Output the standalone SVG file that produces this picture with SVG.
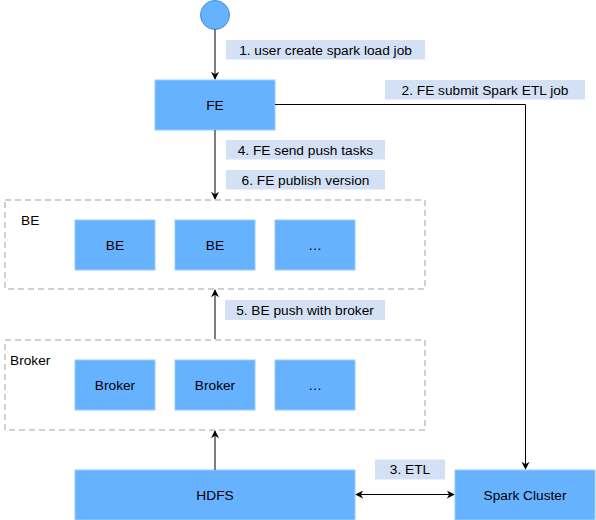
<svg xmlns="http://www.w3.org/2000/svg" width="596" height="520" viewBox="0 0 596 520">
<style>
text{font-family:"Liberation Sans",Arial,sans-serif;font-size:13.7px;fill:#000;}
.n{fill:#66b2ff;stroke:#99ccff;stroke-width:1;}
.lb{fill:#d4e1f5;stroke:none;}
.grp{fill:none;stroke:#d0d0d0;stroke-width:2;stroke-dasharray:6 4;}
.c{fill:none;stroke:#000;stroke-width:1;}
.m{text-anchor:middle;dominant-baseline:central;}
</style>
<defs>
<marker id="ah" viewBox="0 0 10 10" refX="9" refY="5" markerWidth="8" markerHeight="8" markerUnits="userSpaceOnUse" orient="auto-start-reverse">
<path d="M0,0 L10,5 L0,10 L3,5 Z" fill="#000"/>
</marker>
</defs>
<rect width="596" height="520" fill="#fff"/>
<g id="be-group">
<rect class="grp" x="5" y="200" width="420" height="89"/>
<text x="21" y="220" dominant-baseline="central">BE</text>
</g>
<g id="broker-group">
<rect class="grp" x="5" y="340" width="420" height="90"/>
<text x="10" y="360" dominant-baseline="central">Broker</text>
</g>
<g id="start">
<circle cx="215" cy="15" r="14.5" fill="#66b2ff" stroke="#3d8fd6" stroke-width="1"/>
</g>
<g id="fe"><rect class="n" x="155" y="80" width="120" height="50"/><text class="m" x="215" y="105">FE</text></g>
<g id="be1"><rect class="n" x="75" y="220" width="80" height="50"/><text class="m" x="115" y="245">BE</text></g>
<g id="be2"><rect class="n" x="175" y="220" width="80" height="50"/><text class="m" x="215" y="245">BE</text></g>
<g id="be3"><rect class="n" x="275" y="220" width="80" height="50"/><text class="m" x="315" y="245">…</text></g>
<g id="broker1"><rect class="n" x="75" y="360" width="80" height="50"/><text class="m" x="115" y="385">Broker</text></g>
<g id="broker2"><rect class="n" x="175" y="360" width="80" height="50"/><text class="m" x="215" y="385">Broker</text></g>
<g id="broker3"><rect class="n" x="275" y="360" width="80" height="50"/><text class="m" x="315" y="385">…</text></g>
<g id="hdfs"><rect class="n" x="75" y="470" width="280" height="50"/><text class="m" x="215" y="495">HDFS</text></g>
<g id="spark"><rect class="n" x="455" y="470" width="140" height="50"/><text class="m" x="525" y="495">Spark Cluster</text></g>
<g id="connectors">
<path class="c" d="M215,29.5 V79" marker-end="url(#ah)"/>
<path class="c" d="M275,104.5 H525.5 V469" marker-end="url(#ah)"/>
<path class="c" d="M215,130 V199" marker-end="url(#ah)"/>
<path class="c" d="M215,339 V290" marker-end="url(#ah)"/>
<path class="c" d="M215,470 V431" marker-end="url(#ah)"/>
<path class="c" d="M356,494.5 H454" marker-start="url(#ah)" marker-end="url(#ah)"/>
</g>
<g id="labels">
<rect class="lb" x="226" y="40" width="199" height="19.5"/>
<text class="m" x="325.5" y="50">1. user create spark load job</text>
<rect class="lb" x="385" y="80" width="200" height="19.5"/>
<text class="m" x="485" y="90">2. FE submit Spark ETL job</text>
<rect class="lb" x="226" y="140" width="159" height="19.5"/>
<text class="m" x="305.5" y="150">4. FE send push tasks</text>
<rect class="lb" x="226" y="170" width="159" height="19.5"/>
<text class="m" x="305.5" y="180">6. FE publish version</text>
<rect class="lb" x="225" y="300" width="160" height="20"/>
<text class="m" x="305" y="310">5. BE push with broker</text>
<rect class="lb" x="375" y="459.5" width="70" height="20"/>
<text class="m" x="410" y="469.5">3. ETL</text>
</g>
</svg>
